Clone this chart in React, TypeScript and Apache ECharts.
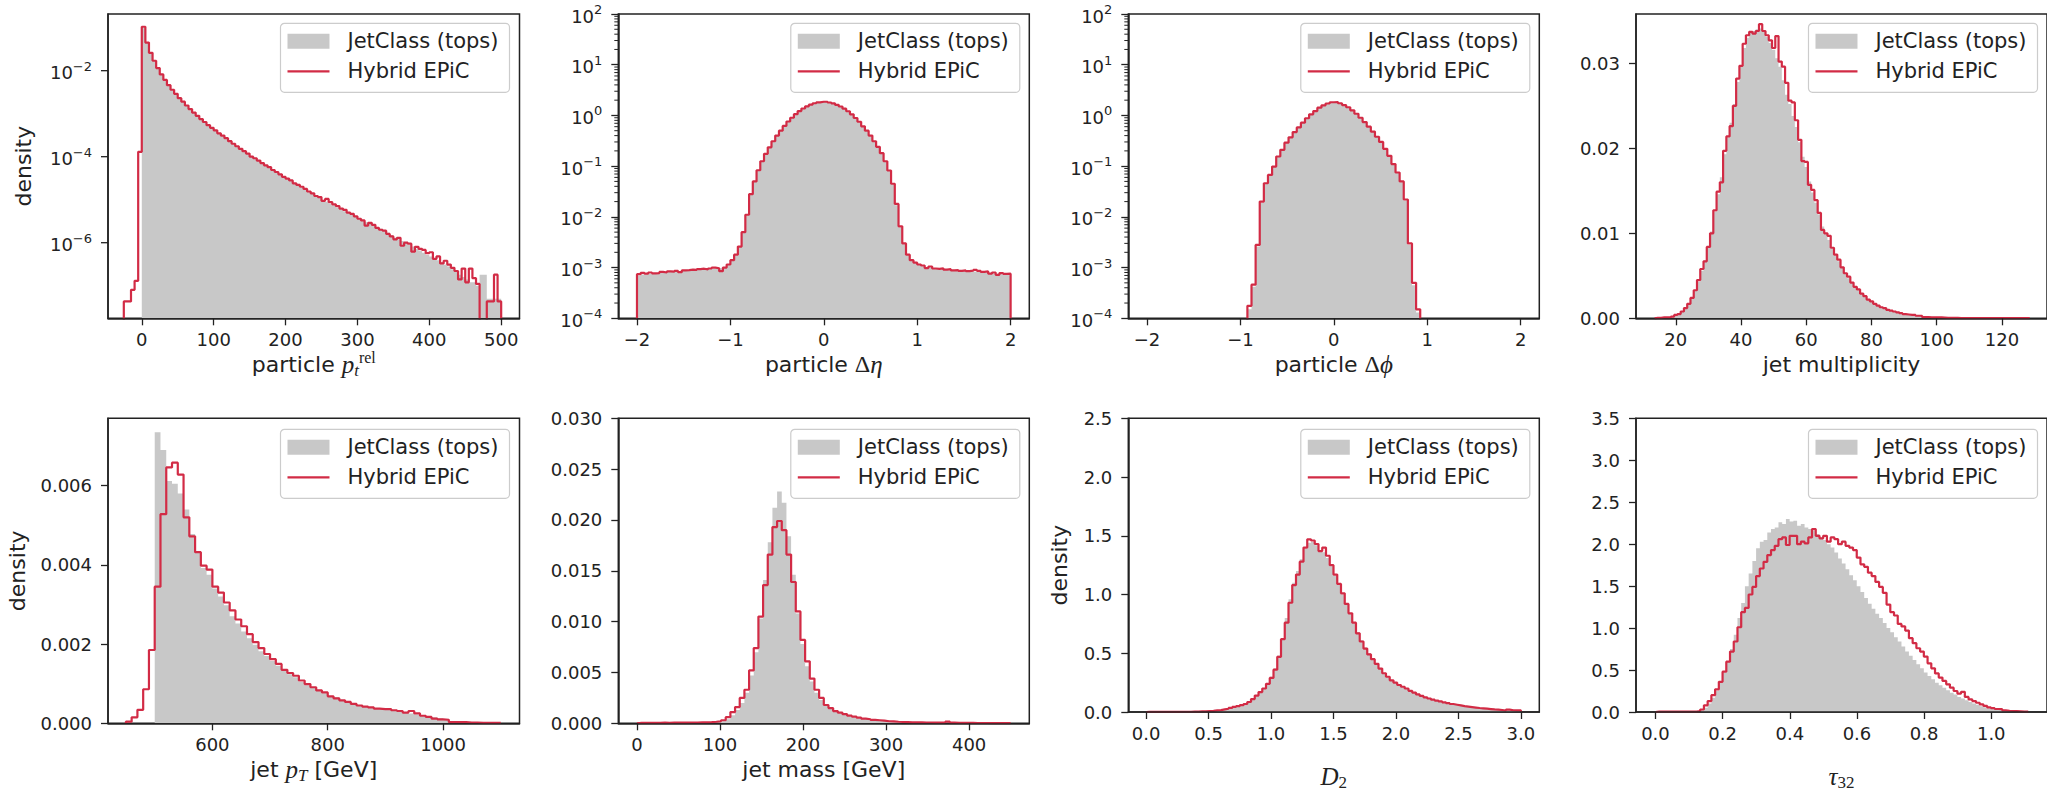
import React, { useEffect, useRef } from "react";
import * as echarts from "echarts";

/* ===================== DATA ===================== */
const SERIES_GRAY = "JetClass (tops)";
const SERIES_RED = "Hybrid EPiC";

// --- particle p_t^rel (log y) : bins of width 5
const PT_REL_BIN_WIDTH = 5;
const PT_REL_EPIC_START = -25;
const PT_REL_JETCLASS_START = 0;
const PT_REL_EPIC = [
  4.3e-8, 4.3e-8, 8e-8, 1.3e-7, 1.3e-4,
  0.105, 0.045, 0.026, 0.017, 0.0115, 0.0082, 0.0061, 0.0046, 0.0036, 0.0029,
  0.0023, 0.0019, 0.00155, 0.00128, 0.00106, 0.00089, 0.00075, 0.00064, 0.00054, 0.00047,
  0.00041, 0.00035, 0.00031, 0.00027, 0.00023, 0.0002, 0.000175, 0.000152, 0.000134, 0.000118,
  0.0001, 0.000092, 0.000081, 0.000071, 0.000063, 0.000057, 0.000049, 0.000044, 0.000039, 0.000034,
  0.000031, 0.000028, 0.000024, 0.000022, 0.00002, 0.0000178, 0.0000155, 0.0000141, 0.0000122, 0.0000115,
  0.0000094, 0.0000104, 0.0000088, 0.0000078, 0.0000071, 0.0000062, 0.0000058, 0.000005, 0.0000047, 0.0000041,
  0.0000036, 0.0000033, 0.0000025, 0.0000029, 0.0000026, 0.0000022, 0.000002, 0.0000019, 0.0000016, 0.0000014,
  0.0000012, 0.0000013, 8.5e-7, 0.000001, 9.5e-7, 6.2e-7, 8e-7, 7.2e-7, 6.8e-7, 5.7e-7,
  6e-7, 4.2e-7, 4.8e-7, 3.3e-7, 3.8e-7, 3.1e-7, 2.6e-7, 2.2e-7, 1.4e-7, 2.5e-7,
  1.2e-7, 2.5e-7, 1.5e-7, 1.1e-7, 0, 0, 4.3e-8, 4.3e-8, 1.8e-7, 4.3e-8,
];
const PT_REL_JETCLASS = [
  0.1, 0.044, 0.026, 0.017, 0.0114, 0.0081, 0.006, 0.0046, 0.0036, 0.0029,
  0.0023, 0.0019, 0.00154, 0.00127, 0.00105, 0.00088, 0.00074, 0.00063, 0.00054, 0.00046,
  0.0004, 0.00035, 0.0003, 0.00026, 0.00023, 0.0002, 0.000172, 0.00015, 0.000132, 0.000115,
  0.000101, 0.00009, 0.00008, 0.000071, 0.000062, 0.000055, 0.000049, 0.000043, 0.000038, 0.000034,
  0.00003, 0.000027, 0.000024, 0.000021, 0.000019, 0.000017, 0.0000152, 0.0000136, 0.0000122, 0.000011,
  0.0000098, 0.0000089, 0.000008, 0.0000073, 0.0000065, 0.000006, 0.0000054, 0.0000049, 0.0000044, 0.000004,
  0.0000036, 0.0000032, 0.000003, 0.0000028, 0.0000025, 0.0000023, 0.0000021, 0.0000019, 0.0000017, 0.0000015,
  0.0000013, 0.0000012, 0.0000011, 0.000001, 9e-7, 8.2e-7, 7.2e-7, 6.6e-7, 5.8e-7, 5.2e-7,
  4.8e-7, 4.3e-7, 3.9e-7, 3.5e-7, 3.1e-7, 2.8e-7, 2.4e-7, 2.2e-7, 1.8e-7, 1.6e-7,
  1.4e-7, 1.2e-7, 1.2e-7, 1e-7, 1.8e-7, 1.8e-7, 5e-8, 5e-8, 5e-8, 5e-8,
];
const PT_REL_XTICKS = [0, 100, 200, 300, 400, 500];
const PT_REL_YTICKS = [1e-6, 1e-4, 1e-2];

// --- particle Δη (log y) : bins of width 0.04 from -2
const DETA_START = -2;
const DETA_BIN_WIDTH = 0.04;
const DETA_EPIC = [
  7.4e-4, 7.9e-4, 7.6e-4, 8.0e-4, 7.7e-4, 7.8e-4, 8.2e-4, 8.0e-4, 8.4e-4, 8.3e-4,
  8.6e-4, 8.1e-4, 8.8e-4, 8.9e-4, 9.1e-4, 9.0e-4, 9.3e-4, 9.5e-4, 9.2e-4, 9.6e-4,
  1.0e-3, 9.7e-4, 8.5e-4, 1.0e-3, 1.15e-3, 1.4e-3, 1.8e-3, 2.6e-3, 5.0e-3, 1.1e-2,
  2.8e-2, 5.0e-2, 8.3e-2, 0.125, 0.175, 0.235, 0.31, 0.4, 0.5, 0.62,
  0.76, 0.9, 1.06, 1.22, 1.37, 1.51, 1.63, 1.74, 1.81, 1.86,
  1.86, 1.8, 1.73, 1.62, 1.5, 1.36, 1.21, 1.05, 0.89, 0.75,
  0.61, 0.5, 0.4, 0.31, 0.24, 0.18, 0.125, 0.082, 0.045, 0.018,
  6.5e-3, 3.0e-3, 1.8e-3, 1.4e-3, 1.25e-3, 1.15e-3, 1.1e-3, 9.8e-4, 1.05e-3, 9.6e-4,
  9.4e-4, 9.7e-4, 9.1e-4, 9.3e-4, 8.8e-4, 8.9e-4, 8.6e-4, 8.8e-4, 8.5e-4, 8.7e-4,
  9.0e-4, 8.6e-4, 8.2e-4, 8.4e-4, 7.6e-4, 8.0e-4, 7.2e-4, 7.8e-4, 7.5e-4, 7.6e-4,
];
const DETA_JETCLASS = [
  7.0e-4, 7.3e-4, 7.5e-4, 7.6e-4, 7.8e-4, 7.9e-4, 8.0e-4, 8.1e-4, 8.3e-4, 8.4e-4,
  8.5e-4, 8.6e-4, 8.7e-4, 8.8e-4, 8.9e-4, 9.0e-4, 9.1e-4, 9.2e-4, 9.3e-4, 9.4e-4,
  9.6e-4, 9.6e-4, 9.8e-4, 1.02e-3, 1.12e-3, 1.35e-3, 1.75e-3, 2.6e-3, 5.0e-3, 1.1e-2,
  2.7e-2, 4.9e-2, 8.2e-2, 0.123, 0.172, 0.232, 0.305, 0.395, 0.495, 0.615,
  0.75, 0.89, 1.05, 1.21, 1.36, 1.5, 1.62, 1.73, 1.8, 1.85,
  1.85, 1.8, 1.72, 1.61, 1.49, 1.35, 1.2, 1.04, 0.88, 0.74,
  0.6, 0.49, 0.39, 0.305, 0.235, 0.175, 0.122, 0.08, 0.044, 0.017,
  6.2e-3, 2.9e-3, 1.75e-3, 1.38e-3, 1.22e-3, 1.12e-3, 1.06e-3, 1.02e-3, 9.9e-4, 9.6e-4,
  9.4e-4, 9.3e-4, 9.2e-4, 9.0e-4, 8.9e-4, 8.8e-4, 8.7e-4, 8.6e-4, 8.5e-4, 8.4e-4,
  8.3e-4, 8.2e-4, 8.0e-4, 7.9e-4, 7.8e-4, 7.6e-4, 7.5e-4, 7.3e-4, 7.2e-4, 7.0e-4,
];
const ETA_PHI_XTICKS = [-2, -1, 0, 1, 2];

// --- particle Δϕ (log y) : 42 bins of width 0.04405 from -0.925
const DPHI_START = -0.925;
const DPHI_BIN_WIDTH = 0.04405;
const DPHI_EPIC = [
  1.76e-4, 4.6e-4, 2.8e-3, 0.02, 0.046, 0.067, 0.098, 0.155, 0.21, 0.29,
  0.37, 0.47, 0.58, 0.72, 0.88, 1.05, 1.22, 1.42, 1.58, 1.72,
  1.82, 1.83, 1.74, 1.6, 1.45, 1.26, 1.08, 0.9, 0.74, 0.6,
  0.48, 0.38, 0.3, 0.22, 0.16, 0.11, 0.075, 0.05, 0.022, 3e-3,
  5e-4, 1.5e-4,
];
const DPHI_JETCLASS = [
  1.5e-4, 4.2e-4, 2.6e-3, 0.019, 0.045, 0.066, 0.097, 0.152, 0.21, 0.285,
  0.365, 0.465, 0.575, 0.715, 0.87, 1.04, 1.21, 1.4, 1.57, 1.71,
  1.81, 1.82, 1.73, 1.59, 1.44, 1.25, 1.07, 0.89, 0.73, 0.59,
  0.47, 0.375, 0.295, 0.215, 0.155, 0.108, 0.073, 0.048, 0.021, 2.8e-3,
  4.5e-4, 1.3e-4,
];

// --- jet multiplicity : unit bins centred on 14..128
const MULT_START = 13.5;
const MULT_BIN_WIDTH = 1;
const MULT_EPIC = [
  0.00005, 0.00005, 0.0001, 0.0001, 0.0001, 0.0002, 0.0004, 0.0005, 0.0008, 0.0012,
  0.0017, 0.0024, 0.0033, 0.0045, 0.0058, 0.0067, 0.0084, 0.01, 0.0127, 0.0149,
  0.016, 0.0197, 0.0214, 0.0226, 0.025, 0.0282, 0.0297, 0.0323, 0.0333, 0.0337,
  0.0335, 0.0338, 0.0346, 0.0338, 0.0333, 0.0327, 0.0318, 0.0332, 0.0302, 0.0296,
  0.0277, 0.0256, 0.0254, 0.0233, 0.021, 0.0185, 0.0184, 0.0157, 0.0151, 0.0139,
  0.0124, 0.0104, 0.01, 0.0097, 0.0083, 0.0075, 0.0069, 0.006, 0.0053, 0.0049,
  0.0042, 0.0037, 0.0034, 0.0029, 0.0026, 0.0022, 0.002, 0.0017, 0.0015, 0.0013,
  0.0012, 0.001, 0.0009, 0.0008, 0.0007, 0.0006, 0.0005, 0.00045, 0.0004, 0.0004,
  0.0003, 0.0003, 0.00015, 0.00015, 0.00012, 0.0001, 0.0001, 0.0001, 0.00008, 0.00005,
  0.00005, 0.00004, 0.00004, 0.00003, 0.00003, 0.00003, 0.00002, 0.00002, 0.00002, 0.00002,
  0.00002, 0.00001, 0.00001, 0.00001, 0.00001, 0.00001, 0.00001, 0.00001, 0.00001, 0.00001,
  0.00001, 0.00001, 0.00001, 0.00001, 0.00001,
];
const MULT_JETCLASS = [
  0.00003, 0.00005, 0.00008, 0.0001, 0.00012, 0.0002, 0.0003, 0.0005, 0.0008, 0.0012,
  0.0017, 0.0024, 0.0032, 0.0043, 0.0056, 0.0068, 0.0084, 0.0102, 0.0125, 0.0146,
  0.0166, 0.0193, 0.0213, 0.023, 0.0252, 0.0278, 0.0297, 0.0318, 0.033, 0.0336,
  0.0338, 0.034, 0.0341, 0.0337, 0.0331, 0.0324, 0.0316, 0.0306, 0.0296, 0.028,
  0.0263, 0.0252, 0.0238, 0.0225, 0.0207, 0.019, 0.0178, 0.0161, 0.0148, 0.0136,
  0.0122, 0.0108, 0.0099, 0.0092, 0.0082, 0.0074, 0.0067, 0.006, 0.0053, 0.0047,
  0.0042, 0.0037, 0.0033, 0.0029, 0.0026, 0.0022, 0.002, 0.0017, 0.0015, 0.0013,
  0.0012, 0.001, 0.0009, 0.0008, 0.0007, 0.0006, 0.0005, 0.00045, 0.0004, 0.00035,
  0.0003, 0.00025, 0.0002, 0.00018, 0.00015, 0.00012, 0.0001, 0.00009, 0.00008, 0.00005,
  0.00005, 0.00004, 0.00004, 0.00003, 0.00003, 0.00003, 0.00002, 0.00002, 0.00002, 0.00002,
  0.00002, 0.00001, 0.00001, 0.00001, 0.00001, 0.00001, 0.00001, 0.00001, 0.00001, 0.00001,
  0.00001, 0.00001, 0.00001, 0.00001, 0.00001,
];
const MULT_XTICKS = [20, 40, 60, 80, 100, 120];
const MULT_YTICKS = [0, 0.01, 0.02, 0.03];

// --- jet p_T [GeV] : bins of width 10
const JPT_BIN_WIDTH = 10;
const JPT_EPIC_START = 450;
const JPT_JETCLASS_START = 500;
const JPT_EPIC = [
  0.00004, 0.00015, 0.00034, 0.00086, 0.00185, 0.00345, 0.00528, 0.00646, 0.00658, 0.00628,
  0.0052, 0.00472, 0.00432, 0.00398, 0.00388, 0.00345, 0.0033, 0.00305, 0.00285, 0.00262,
  0.00245, 0.00225, 0.00205, 0.0019, 0.00175, 0.00162, 0.0015, 0.00135, 0.00127, 0.0012,
  0.00108, 0.00099, 0.00091, 0.00083, 0.00078, 0.00068, 0.00063, 0.00058, 0.00054, 0.00049,
  0.00045, 0.00042, 0.0004, 0.00037, 0.00036, 0.00036, 0.00033, 0.00031, 0.00027, 0.00031,
  0.00025, 0.00019, 0.00016, 0.00012, 0.0001, 0.00009, 0.00003, 0.00003, 0.00003, 0.00002,
  0.00002, 0.00001, 0.00001, 0.00001, 0.00001,
];
const JPT_JETCLASS = [
  0.00735, 0.0069, 0.00612, 0.00605, 0.0058, 0.0054, 0.00478, 0.00435, 0.00392, 0.00375,
  0.0034, 0.0032, 0.00298, 0.0027, 0.00252, 0.00232, 0.00215, 0.00198, 0.00182, 0.0017,
  0.00157, 0.00145, 0.00133, 0.00124, 0.00116, 0.00104, 0.00096, 0.0009, 0.00082, 0.00076,
  0.00069, 0.00066, 0.00059, 0.00054, 0.0005, 0.00046, 0.00043, 0.00041, 0.00038, 0.00036,
  0.00034, 0.00031, 0.00029, 0.00027, 0.00025, 0.00022, 0.00019, 0.00017, 0.00015, 0.00013,
  0.00011,
];
const JPT_XTICKS = [600, 800, 1000];
const JPT_YTICKS = [0, 0.002, 0.004, 0.006];

// --- jet mass [GeV] : 80 bins from 0 to 450
const MASS_START = 0;
const MASS_BIN_WIDTH = 5.625;
const MASS_EPIC = [
  0.00005, 0.00005, 0.00004, 0.00005, 0.00005, 0.00006, 0.00005, 0.00006, 0.00006, 0.00007,
  0.00007, 0.00008, 0.00008, 0.00009, 0.0001, 0.00012, 0.00015, 0.0002, 0.0003, 0.0006,
  0.0011, 0.0016, 0.0025, 0.0033, 0.0052, 0.0074, 0.0105, 0.0136, 0.0166, 0.0193,
  0.0199, 0.019, 0.0166, 0.0139, 0.011, 0.0082, 0.0061, 0.0044, 0.0033, 0.0025,
  0.0018, 0.0015, 0.0012, 0.00105, 0.0009, 0.00075, 0.00066, 0.00056, 0.00046, 0.0004,
  0.00033, 0.0003, 0.00026, 0.0002, 0.00018, 0.00015, 0.00013, 0.00012, 0.0001, 0.0001,
  0.00009, 0.00008, 0.00008, 0.00007, 0.00007, 0.00008, 0.00016, 0.00006, 0.00005, 0.00005,
  0.00004, 0.00004, 0.00003, 0.00003, 0.00003, 0.00002, 0.00002, 0.00002, 0.00002, 0.00002,
];
const MASS_JETCLASS = [
  0.00002, 0.00002, 0.00002, 0.00002, 0.00002, 0.00002, 0.00002, 0.00002, 0.00002, 0.00002,
  0.00002, 0.00002, 0.00002, 0.00002, 0.00002, 0.00004, 0.00006, 0.0001, 0.0002, 0.0004,
  0.0008, 0.0013, 0.002, 0.003, 0.0047, 0.007, 0.0103, 0.0141, 0.0178, 0.0212,
  0.0228, 0.0217, 0.0184, 0.0146, 0.0108, 0.0078, 0.0056, 0.0041, 0.003, 0.0023,
  0.0018, 0.0014, 0.0012, 0.001, 0.00085, 0.0007, 0.0006, 0.0005, 0.00043, 0.00037,
  0.00032, 0.00028, 0.00024, 0.0002, 0.00017, 0.00014, 0.00012, 0.0001, 0.00009, 0.00008,
  0.00007, 0.00006, 0.00005, 0.00004, 0.00004, 0.00004, 0.00003, 0.00003, 0.00003, 0.00002,
  0.00002, 0.00002, 0.00002, 0.00002, 0.00001, 0.00001, 0.00001, 0.00001, 0.00001, 0.00001,
];
const MASS_XTICKS = [0, 100, 200, 300, 400];
const MASS_YTICKS = [0, 0.005, 0.01, 0.015, 0.02, 0.025, 0.03];

// --- D2 : 100 bins of width 0.03 from 0
const D2_START = 0;
const D2_BIN_WIDTH = 0.03;
const D2_EPIC = [
  0.001, 0.001, 0.001, 0.001, 0.001, 0.001, 0.001, 0.001, 0.001, 0.002,
  0.002, 0.002, 0.003, 0.004, 0.005, 0.006, 0.008, 0.01, 0.014, 0.016,
  0.022, 0.028, 0.035, 0.043, 0.05, 0.058, 0.068, 0.085, 0.11, 0.14,
  0.17, 0.2, 0.24, 0.29, 0.36, 0.47, 0.62, 0.76, 0.93, 1.08,
  1.17, 1.28, 1.4, 1.47, 1.46, 1.43, 1.37, 1.4, 1.33, 1.25,
  1.17, 1.09, 1.01, 0.92, 0.84, 0.76, 0.67, 0.6, 0.54, 0.49,
  0.45, 0.41, 0.37, 0.33, 0.3, 0.27, 0.25, 0.23, 0.215, 0.2,
  0.18, 0.165, 0.15, 0.137, 0.125, 0.115, 0.105, 0.097, 0.09, 0.082,
  0.075, 0.068, 0.062, 0.056, 0.05, 0.046, 0.042, 0.038, 0.034, 0.031,
  0.028, 0.025, 0.022, 0.02, 0.017, 0.013, 0.02, 0.015, 0.014, 0.013,
];
const D2_JETCLASS = [
  0, 0, 0, 0, 0, 0, 0, 0, 0, 0.001,
  0.001, 0.002, 0.003, 0.004, 0.005, 0.006, 0.008, 0.01, 0.013, 0.016,
  0.021, 0.027, 0.034, 0.042, 0.05, 0.058, 0.068, 0.084, 0.108, 0.138,
  0.17, 0.205, 0.245, 0.3, 0.37, 0.48, 0.63, 0.8, 0.96, 1.1,
  1.2, 1.3, 1.39, 1.44, 1.45, 1.42, 1.38, 1.36, 1.31, 1.24,
  1.16, 1.08, 1.0, 0.92, 0.84, 0.76, 0.68, 0.61, 0.55, 0.5,
  0.45, 0.41, 0.37, 0.33, 0.3, 0.27, 0.25, 0.23, 0.21, 0.195,
  0.178, 0.163, 0.149, 0.136, 0.124, 0.114, 0.104, 0.096, 0.088, 0.081,
  0.074, 0.067, 0.061, 0.055, 0.05, 0.046, 0.042, 0.038, 0.034, 0.031,
  0.028, 0.025, 0.022, 0.02, 0.018, 0.016, 0.015, 0.014, 0.013, 0.012,
];
const D2_XTICKS = [0, 0.5, 1, 1.5, 2, 2.5, 3];
const D2_YTICKS = [0, 0.5, 1, 1.5, 2, 2.5];

// --- tau_32 : 100 bins of width 0.0111 from 0
const TAU_START = 0;
const TAU_BIN_WIDTH = 0.0111;
const TAU_EPIC = [
  0.004, 0.004, 0.004, 0.004, 0.004, 0.004, 0.004, 0.004, 0.004, 0.004,
  0.004, 0.01, 0.03, 0.08, 0.13, 0.2, 0.27, 0.36, 0.48, 0.6,
  0.72, 0.84, 1.01, 1.19, 1.24, 1.4, 1.49, 1.62, 1.71, 1.79,
  1.87, 1.93, 1.98, 2.06, 2.08, 1.99, 2.1, 2.1, 2.0, 2.03,
  2.01, 2.08, 2.18, 2.1, 2.07, 2.1, 2.03, 2.08, 2.06, 2.0,
  2.03, 1.98, 1.96, 1.93, 1.84, 1.76, 1.73, 1.66, 1.62, 1.55,
  1.49, 1.42, 1.28, 1.19, 1.15, 1.05, 1.02, 0.97, 0.88, 0.82,
  0.76, 0.72, 0.66, 0.58, 0.52, 0.46, 0.41, 0.37, 0.33, 0.29,
  0.25, 0.22, 0.24, 0.18, 0.15, 0.13, 0.11, 0.09, 0.072, 0.055,
  0.045, 0.036, 0.035, 0.02, 0.015, 0.012, 0.01, 0.008, 0.006, 0.004,
];
const TAU_JETCLASS = [
  0, 0, 0, 0, 0, 0, 0, 0, 0, 0,
  0, 0.005, 0.02, 0.05, 0.1, 0.17, 0.25, 0.35, 0.47, 0.6,
  0.75, 0.92, 1.12, 1.3, 1.5, 1.65, 1.8, 1.95, 2.03, 2.05,
  2.14, 2.18, 2.2, 2.26, 2.24, 2.3, 2.27, 2.28, 2.22, 2.24,
  2.2, 2.18, 2.16, 2.12, 2.08, 2.05, 2.0, 1.96, 1.9, 1.83,
  1.77, 1.7, 1.63, 1.57, 1.5, 1.43, 1.36, 1.29, 1.23, 1.17,
  1.12, 1.06, 1.0, 0.95, 0.89, 0.84, 0.78, 0.72, 0.67, 0.62,
  0.57, 0.52, 0.47, 0.43, 0.39, 0.35, 0.32, 0.29, 0.26, 0.23,
  0.21, 0.18, 0.16, 0.14, 0.12, 0.1, 0.085, 0.07, 0.057, 0.045,
  0.035, 0.028, 0.022, 0.017, 0.013, 0.01, 0.007, 0.005, 0.004, 0.003,
];
const TAU_XTICKS = [0, 0.2, 0.4, 0.6, 0.8, 1.0];
const TAU_YTICKS = [0, 0.5, 1, 1.5, 2, 2.5, 3, 3.5];

// minor ticks of the two 1e-4 … 1e2 log axes
const LOG_MINOR_DECADES = [-4, -3, -2, -1, 0, 1];
const LOG_MINOR_MULTIPLIERS = [2, 3, 4, 5, 6, 7, 8, 9];

/* ===================== STYLE & LAYOUT ===================== */
const FONT = "DejaVu Sans";
const MATH_FONT = '"Liberation Serif", "DejaVu Serif", serif';
const INK = "#222222";
const GRAY = "#c8c8c8";
const RED = "#d22b45";

const CHART_W = 2047;
const CHART_H = 792;
const COL_LEFT = [108, 618.3, 1128.3, 1636];
const ROW_TOP = [14, 418.3];
const ROW_H = [304.3, 305];
const LEGEND_TOP = [23.3, 429.3];
const LEGEND_RIGHT_FROM_LEFT = 401.5;
const XNAME_GAP_TEXT = 25;
const XNAME_GAP_MATH = 49;

const NAME_RICH: any = {
  n: { fontSize: 22, fontFamily: FONT, color: INK, lineHeight: 30 },
  m: { fontSize: 25, fontFamily: MATH_FONT, fontStyle: "italic", color: INK, lineHeight: 30 },
  g: { fontSize: 24, fontFamily: MATH_FONT, color: INK, lineHeight: 30 },
  sub: { fontSize: 17, fontFamily: MATH_FONT, fontStyle: "italic", color: INK, lineHeight: 30, verticalAlign: "bottom" },
  subr: { fontSize: 17, fontFamily: MATH_FONT, color: INK, lineHeight: 30, verticalAlign: "bottom" },
  sup: { fontSize: 16, fontFamily: MATH_FONT, color: INK, lineHeight: 30, verticalAlign: "top" },
};
const LOG_RICH: any = {
  b: { fontSize: 18, fontFamily: FONT, color: INK, lineHeight: 22, verticalAlign: "bottom" },
  s: { fontSize: 13, fontFamily: FONT, color: INK, lineHeight: 22, verticalAlign: "top" },
};
const LOG_RICH_FILL: any = {
  b: { fontSize: 18, fontFamily: FONT, fill: INK, lineHeight: 22, verticalAlign: "bottom" },
  s: { fontSize: 13, fontFamily: FONT, fill: INK, lineHeight: 22, verticalAlign: "top" },
};

interface Panel {
  row: number;
  col: number;
  width: number;
  xMin: number;
  xMax: number;
  xTicks: number[];
  xDec: number;
  xName: string;
  xNameGap: number;
  yMode: "linear" | "log-native" | "log-custom";
  yMin: number;
  yMax: number;
  yTicks?: number[];
  yDec?: number;
  yName?: string;
  yNameGap?: number;
  minor?: boolean;
  bin: number;
  redStart: number;
  red: number[];
  grayStart: number;
  gray: number[];
}

const PANELS: Panel[] = [
  {
    row: 0, col: 0, width: 411.5, xMin: -47, xMax: 525.5, xTicks: PT_REL_XTICKS, xDec: 0,
    xName: "{n|particle }{m|p}{sub|t}{sup|rel}", xNameGap: XNAME_GAP_TEXT,
    yMode: "log-custom", yMin: Math.pow(10, -7.758), yMax: Math.pow(10, -0.682), yTicks: PT_REL_YTICKS,
    yName: "density", yNameGap: 72,
    bin: PT_REL_BIN_WIDTH, redStart: PT_REL_EPIC_START, red: PT_REL_EPIC, grayStart: PT_REL_JETCLASS_START, gray: PT_REL_JETCLASS,
  },
  {
    row: 0, col: 1, width: 411, xMin: -2.2, xMax: 2.2, xTicks: ETA_PHI_XTICKS, xDec: 0,
    xName: "{n|particle }{g|Δ}{m|η}", xNameGap: XNAME_GAP_TEXT,
    yMode: "log-native", yMin: 1e-4, yMax: 100, minor: true,
    bin: DETA_BIN_WIDTH, redStart: DETA_START, red: DETA_EPIC, grayStart: DETA_START, gray: DETA_JETCLASS,
  },
  {
    row: 0, col: 2, width: 411, xMin: -2.2, xMax: 2.2, xTicks: ETA_PHI_XTICKS, xDec: 0,
    xName: "{n|particle }{g|Δ}{m|ϕ}", xNameGap: XNAME_GAP_TEXT,
    yMode: "log-native", yMin: 1e-4, yMax: 100, minor: true,
    bin: DPHI_BIN_WIDTH, redStart: DPHI_START, red: DPHI_EPIC, grayStart: DPHI_START, gray: DPHI_JETCLASS,
  },
  {
    row: 0, col: 3, width: 411, xMin: 7.8, xMax: 133.8, xTicks: MULT_XTICKS, xDec: 0,
    xName: "{n|jet multiplicity}", xNameGap: XNAME_GAP_TEXT,
    yMode: "linear", yMin: 0, yMax: 0.0358, yTicks: MULT_YTICKS, yDec: 2,
    bin: MULT_BIN_WIDTH, redStart: MULT_START, red: MULT_EPIC, grayStart: MULT_START, gray: MULT_JETCLASS,
  },
  {
    row: 1, col: 0, width: 411.5, xMin: 419, xMax: 1132.5, xTicks: JPT_XTICKS, xDec: 0,
    xName: "{n|jet }{m|p}{sub|T}{n| [GeV]}", xNameGap: XNAME_GAP_TEXT,
    yMode: "linear", yMin: 0, yMax: 0.0077, yTicks: JPT_YTICKS, yDec: 3,
    yName: "density", yNameGap: 78,
    bin: JPT_BIN_WIDTH, redStart: JPT_EPIC_START, red: JPT_EPIC, grayStart: JPT_JETCLASS_START, gray: JPT_JETCLASS,
  },
  {
    row: 1, col: 1, width: 411, xMin: -22.5, xMax: 472.5, xTicks: MASS_XTICKS, xDec: 0,
    xName: "{n|jet mass [GeV]}", xNameGap: XNAME_GAP_TEXT,
    yMode: "linear", yMin: 0, yMax: 0.03, yTicks: MASS_YTICKS, yDec: 3,
    bin: MASS_BIN_WIDTH, redStart: MASS_START, red: MASS_EPIC, grayStart: MASS_START, gray: MASS_JETCLASS,
  },
  {
    row: 1, col: 2, width: 411, xMin: -0.142, xMax: 3.147, xTicks: D2_XTICKS, xDec: 1,
    xName: "{m|D}{subr|2}", xNameGap: XNAME_GAP_MATH,
    yMode: "linear", yMin: 0, yMax: 2.5, yTicks: D2_YTICKS, yDec: 1,
    yName: "density", yNameGap: 56,
    bin: D2_BIN_WIDTH, redStart: D2_START, red: D2_EPIC, grayStart: D2_START, gray: D2_JETCLASS,
  },
  {
    row: 1, col: 3, width: 413.5, xMin: -0.058, xMax: 1.166, xTicks: TAU_XTICKS, xDec: 1,
    xName: "{m|τ}{subr|32}", xNameGap: XNAME_GAP_MATH,
    yMode: "linear", yMin: 0, yMax: 3.5, yTicks: TAU_YTICKS, yDec: 1,
    bin: TAU_BIN_WIDTH, redStart: TAU_START, red: TAU_EPIC, grayStart: TAU_START, gray: TAU_JETCLASS,
  },
];

/* ===================== HELPERS ===================== */
function stepPoints(start: number, width: number, vals: number[], floor: number): number[][] {
  const f = (v: number) => (v > 0 ? v : floor);
  const n = vals.length;
  const pts: number[][] = [[start, floor]];
  for (let i = 0; i < n; i++) pts.push([start + i * width, f(vals[i])]);
  pts.push([start + n * width, f(vals[n - 1])]);
  pts.push([start + n * width, floor]);
  return pts;
}

function fmt(v: number, dec: number): string {
  const s = Math.abs(v).toFixed(dec);
  return v < 0 ? "\u2212" + s : s;
}

function expText(v: number): string {
  const e = Math.round(Math.log10(v));
  return `{b|10}{s|${e < 0 ? "\u2212" + -e : String(e)}}`;
}

function buildOption(): any {
  const grid: any[] = [];
  const xAxis: any[] = [];
  const yAxis: any[] = [];
  const series: any[] = [];
  const legend: any[] = [];
  const minorVals: number[] = [];
  LOG_MINOR_DECADES.forEach((d) => LOG_MINOR_MULTIPLIERS.forEach((m) => minorVals.push(m * Math.pow(10, d))));

  PANELS.forEach((p, k) => {
    const left = COL_LEFT[p.col];
    const top = ROW_TOP[p.row];
    const height = ROW_H[p.row];
    const isLog = p.yMode !== "linear";

    grid.push({
      left, top, width: p.width, height, show: true,
      borderColor: INK, borderWidth: 1.5, backgroundColor: "transparent",
    });

    xAxis.push({
      type: "value", gridIndex: k, min: p.xMin, max: p.xMax, z: 5,
      axisLine: { show: true, onZero: false, lineStyle: { color: INK, width: 1.5 } },
      axisTick: { show: true, length: 7, lineStyle: { color: INK, width: 1.3 }, customValues: p.xTicks },
      axisLabel: {
        show: true, margin: 12, fontSize: 18, fontFamily: FONT, color: INK,
        customValues: p.xTicks, formatter: (v: number) => fmt(v, p.xDec),
      },
      splitLine: { show: false },
      name: p.xName, nameLocation: "middle", nameGap: p.xNameGap,
      nameTextStyle: { rich: NAME_RICH, lineHeight: 30, color: INK },
    });

    const yBase: any = {
      gridIndex: k, min: p.yMin, max: p.yMax, z: 5,
      axisLine: { show: true, onZero: false, lineStyle: { color: INK, width: 1.5 } },
      splitLine: { show: false },
      name: p.yName || "", nameLocation: "middle", nameGap: p.yNameGap || 50,
      nameTextStyle: { fontSize: 22, fontFamily: FONT, color: INK, lineHeight: 26 },
    };
    if (p.yMode === "linear") {
      yAxis.push({
        ...yBase, type: "value",
        axisTick: { show: true, length: 7, lineStyle: { color: INK, width: 1.3 }, customValues: p.yTicks },
        axisLabel: {
          show: true, margin: 16, fontSize: 18, fontFamily: FONT, color: INK,
          customValues: p.yTicks, formatter: (v: number) => fmt(v, p.yDec || 0),
        },
      });
    } else if (p.yMode === "log-native") {
      yAxis.push({
        ...yBase, type: "log", logBase: 10,
        axisTick: { show: true, length: 7, lineStyle: { color: INK, width: 1.3 } },
        axisLabel: { show: true, margin: 16, color: INK, formatter: (v: number) => expText(v), rich: LOG_RICH },
      });
    } else {
      yAxis.push({
        ...yBase, type: "log", logBase: 10,
        axisTick: { show: false },
        axisLabel: { show: false },
      });
    }

    const floor = isLog ? p.yMin / 1e4 : 0;

    series.push({
      type: "line", name: SERIES_GRAY, xAxisIndex: k, yAxisIndex: k,
      data: stepPoints(p.grayStart, p.bin, p.gray, floor),
      step: "end", symbol: "none", showSymbol: false, silent: true, z: 1, clip: true,
      color: GRAY, itemStyle: { color: GRAY },
      lineStyle: { width: 0, opacity: 0 },
      areaStyle: { color: GRAY, opacity: 1, origin: isLog ? p.yMin : "start" },
      emphasis: { disabled: true },
    });
    series.push({
      type: "line", name: SERIES_RED, xAxisIndex: k, yAxisIndex: k,
      data: stepPoints(p.redStart, p.bin, p.red, floor),
      step: "end", symbol: "none", showSymbol: false, silent: true, z: 3, clip: true,
      color: RED, itemStyle: { color: RED },
      lineStyle: { color: RED, width: 2.2 },
      emphasis: { disabled: true },
    });

    if (p.yMode === "log-custom" && p.yTicks) {
      series.push({
        type: "custom", xAxisIndex: k, yAxisIndex: k, silent: true, z: 6, clip: false,
        data: p.yTicks.map((v) => [p.xMin, v]),
        renderItem: (_params: any, api: any) => {
          const v = api.value(1);
          const pt = api.coord([api.value(0), v]);
          return {
            type: "group",
            children: [
              { type: "line", shape: { x1: pt[0] - 7, y1: pt[1], x2: pt[0], y2: pt[1] }, style: { stroke: INK, lineWidth: 1.3 } },
              {
                type: "text", x: pt[0] - 16, y: pt[1],
                style: { text: expText(v), rich: LOG_RICH_FILL, align: "right", verticalAlign: "middle", fill: INK },
              },
            ],
          };
        },
      });
    }
    if (p.minor) {
      series.push({
        type: "custom", xAxisIndex: k, yAxisIndex: k, silent: true, z: 6, clip: false,
        data: minorVals.map((v) => [p.xMin, v]),
        renderItem: (_params: any, api: any) => {
          const pt = api.coord([api.value(0), api.value(1)]);
          return { type: "line", shape: { x1: pt[0] - 4, y1: pt[1], x2: pt[0], y2: pt[1] }, style: { stroke: INK, lineWidth: 1 } };
        },
      });
    }

    legend.push({
      show: true, orient: "vertical", align: "left",
      right: CHART_W - (left + LEGEND_RIGHT_FROM_LEFT), top: LEGEND_TOP[p.row],
      data: [
        { name: SERIES_GRAY, icon: "rect" },
        { name: SERIES_RED, icon: "path://M0,0H42V2.2H0Z" },
      ],
      itemWidth: 42, itemHeight: 15, itemGap: 4, padding: [5, 11, 8, 7],
      backgroundColor: "rgba(255,255,255,0.8)", borderColor: "#cccccc", borderWidth: 1.2, borderRadius: 4,
      selectedMode: false, itemStyle: { borderWidth: 0 },
      textStyle: { fontSize: 21, fontFamily: FONT, color: INK, lineHeight: 26, padding: [0, 0, 0, 13] },
    });
  });

  return {
    animation: false,
    backgroundColor: "#ffffff",
    textStyle: { fontFamily: FONT },
    grid, xAxis, yAxis, series, legend,
  };
}

/* ===================== COMPONENT ===================== */
export default function App() {
  const ref = useRef<HTMLDivElement>(null);
  useEffect(() => {
    if (!ref.current) return;
    const chart = echarts.init(ref.current, undefined, { renderer: "svg" });
    chart.setOption(buildOption());
    return () => chart.dispose();
  }, []);
  return (
    <div
      ref={ref}
      style={{ position: "absolute", left: 0, top: 0, width: CHART_W, height: CHART_H, background: "#fff" }}
    />
  );
}
